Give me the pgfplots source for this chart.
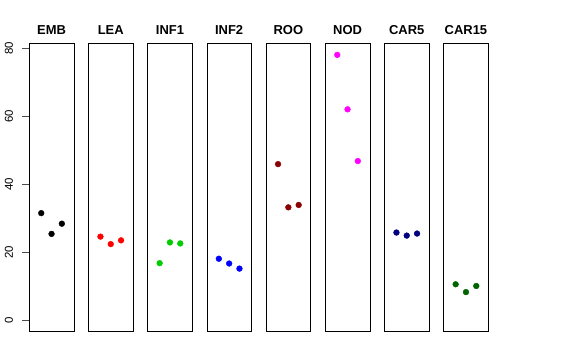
\documentclass[border=0pt]{standalone}
\usepackage{pgfplots}
\pgfplotsset{compat=1.18}
\usepackage{fontspec}
\setmainfont{Liberation Sans}
\definecolor{rgreen}{RGB}{0,205,0}
\definecolor{rdarkred}{RGB}{139,0,0}
\definecolor{rnavy}{RGB}{0,0,128}
\definecolor{rdarkgreen}{RGB}{0,100,0}
\definecolor{rmagenta}{RGB}{255,0,255}
\definecolor{rred}{RGB}{255,0,0}
\definecolor{rblue}{RGB}{0,0,255}
\pgfplotsset{
  panel/.style={
    scale only axis, width=44.5bp, height=287.7bp,
    xmin=-0.16, xmax=4.16, ymin=-3.13, ymax=81.4,
    anchor=south west,
    axis line style={black, line width=0.6pt},
    xtick=\empty, ytick=\empty,
    title style={font=\bfseries\fontsize{13}{15}\selectfont, anchor=base, at={(0.5,1)}, yshift=2.5bp, inner sep=0pt},
    clip=false,
  },
  dots/.style={only marks, mark=*, mark size=2.9bp},
}
\begin{document}
\begin{tikzpicture}
\path[use as bounding box] (0,0) rectangle (576bp,360bp);
\begin{axis}[panel, at={(29.3bp,29bp)}, title={EMB},
  ytick={0,20,40,60,80}, ytick pos=left, tick align=outside, major tick length=7bp,
  ytick style={line width=0.6pt, color=black!70},
  yticklabel style={rotate=90, anchor=south, inner sep=0pt, yshift=9bp, font=\fontsize{11.5}{13}\selectfont},
  /pgf/number format/assume math mode=true]
\addplot[dots, color=black] coordinates {(1,31.5) (2,25.4) (3,28.4)};
\end{axis}
\begin{axis}[panel, at={(88.5bp,29bp)}, title={LEA}]
\addplot[dots, color=rred] coordinates {(1,24.6) (2,22.4) (3,23.5)};
\end{axis}
\begin{axis}[panel, at={(147.7bp,29bp)}, title={INF1}]
\addplot[dots, color=rgreen] coordinates {(1,16.8) (2,22.9) (3,22.6)};
\end{axis}
\begin{axis}[panel, at={(206.9bp,29bp)}, title={INF2}]
\addplot[dots, color=rblue] coordinates {(1,18.1) (2,16.7) (3,15.2)};
\end{axis}
\begin{axis}[panel, at={(266.1bp,29bp)}, title={ROO}]
\addplot[dots, color=rdarkred] coordinates {(1,45.9) (2,33.2) (3,33.9)};
\end{axis}
\begin{axis}[panel, at={(325.3bp,29bp)}, title={NOD}]
\addplot[dots, color=rmagenta] coordinates {(1,78.0) (2,62.0) (3,46.8)};
\end{axis}
\begin{axis}[panel, at={(384.5bp,29bp)}, title={CAR5}]
\addplot[dots, color=rnavy] coordinates {(1,25.8) (2,24.9) (3,25.5)};
\end{axis}
\begin{axis}[panel, at={(443.7bp,29bp)}, title={CAR15}]
\addplot[dots, color=rdarkgreen] coordinates {(1,10.6) (2,8.3) (3,10.1)};
\end{axis}
\end{tikzpicture}
\end{document}
